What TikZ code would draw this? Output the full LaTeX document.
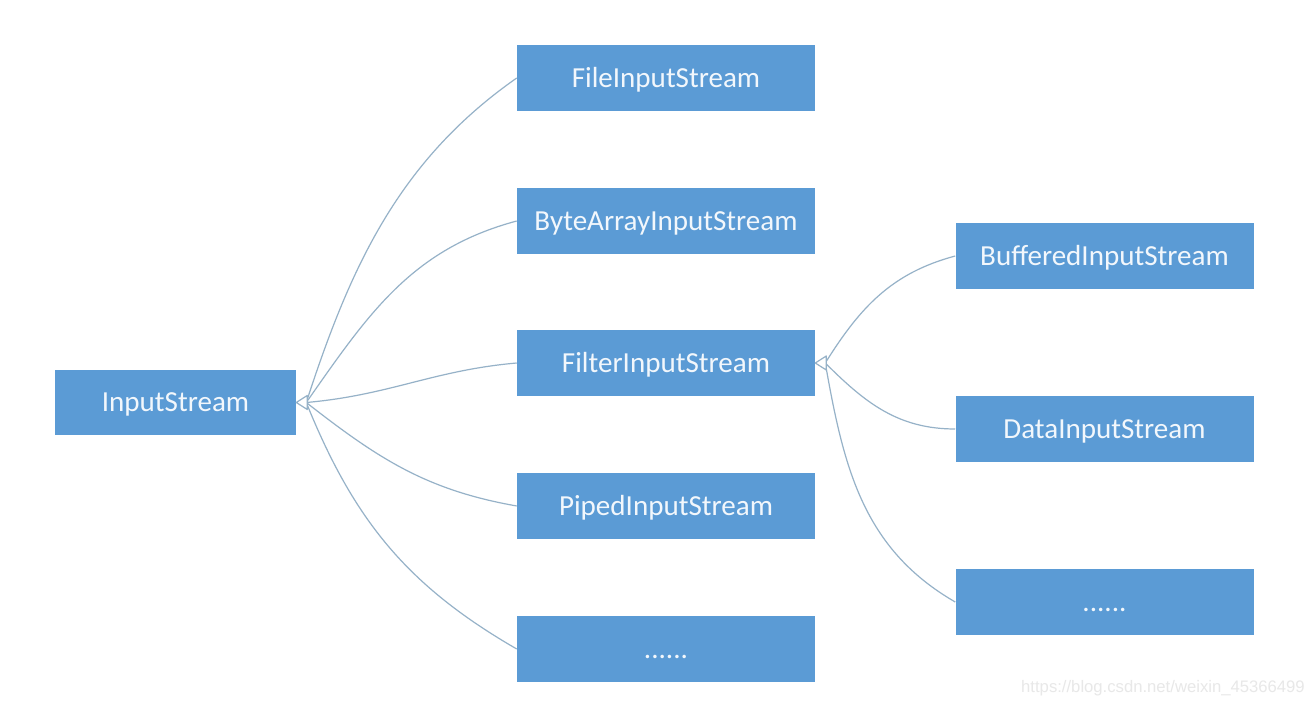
\documentclass[tikz,border=0pt]{standalone}
\usepackage{fontspec}
\setmainfont{Carlito}
\newfontfamily\wmfont{Liberation Sans}
\usetikzlibrary{arrows.meta}
\definecolor{boxblue}{RGB}{91,155,213}
\definecolor{edgecol}{RGB}{150,178,200}
\definecolor{boxtext}{RGB}{242,247,252}
\definecolor{wmcol}{RGB}{232,232,232}
\begin{document}
\begin{tikzpicture}[x=0.75pt,y=0.75pt,
  box/.style={fill=boxblue, draw=none, minimum width=223.5pt, minimum height=49.5pt,
    inner sep=0pt, text=boxtext, font=\fontsize{21.8}{24}\selectfont,
    text height=14pt, text depth=0pt},
  edge/.style={draw=edgecol, line width=0.9pt},
  tri/.style={draw=edgecol, line width=0.9pt, fill=white, line join=round}]
\useasboundingbox (0,0) rectangle (1314,706);
\fill[white] (0,0) rectangle (1314,706);
\node[box, minimum width=180.75pt, minimum height=48.75pt] (in) at (175.5,303.5) {InputStream};
\node[box] (f1) at (666,628) {FileInputStream};
\node[box] (f2) at (666,485) {ByteArrayInputStream};
\node[box] (f3) at (666,343) {FilterInputStream};
\node[box] (f4) at (666,200) {PipedInputStream};
\node[box] (f5) at (666,57) {......};
\node[box] (b1) at (1104.5,450) {BufferedInputStream};
\node[box] (b2) at (1104.5,277) {DataInputStream};
\node[box] (b3) at (1104.5,104) {......};
\coordinate (inb) at ([xshift=7.5pt]in.east);
\coordinate (f3b) at ([xshift=7.5pt]f3.east);
\draw[edge] (inb) to[out=72,in=215,looseness=0.95] (f1.west);
\draw[edge] (inb) to[out=55,in=195] (f2.west);
\draw[edge] (inb) to[out=5,in=185] (f3.west);
\draw[edge] (inb) to[out=-38,in=170] (f4.west);
\draw[edge] (inb) to[out=-68,in=150] (f5.west);
\draw[edge] (f3b) to[out=58,in=195] (b1.west);
\draw[edge] (f3b) to[out=-45,in=180] (b2.west);
\draw[edge] (f3b) to[out=-80,in=150] (b3.west);
\draw[tri] (in.east) -- ++(11,7) -- ++(0,-14) -- cycle;
\draw[tri] (f3.east) -- ++(11,7) -- ++(0,-14) -- cycle;
\node[anchor=east, text=wmcol, font=\wmfont\fontsize{12.5}{14}\selectfont, inner sep=0pt] (wm) at (1305,18) {https://blog.csdn.net/weixin\_45366499};
\end{tikzpicture}
\end{document}
